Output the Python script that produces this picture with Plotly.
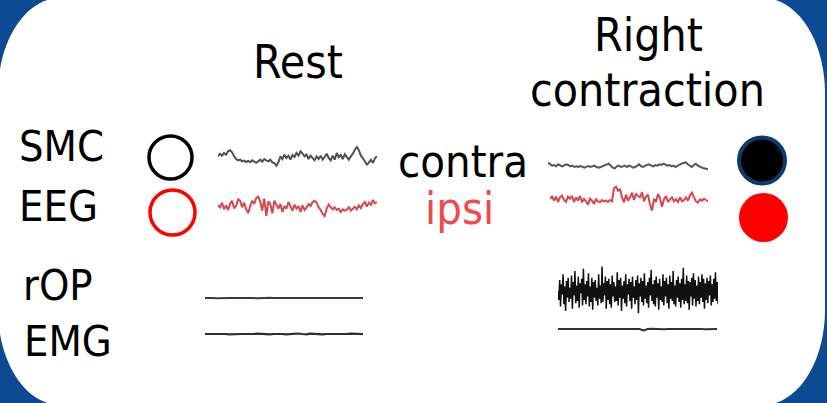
import plotly.graph_objects as go

W, H = 827, 403

# ---------------- data (signal samples, arbitrary units) ----------------
rest_smc_y = [80, 72, 78, 70, 75, 65, 62, 68, 80, 88, 92, 90, 95, 93, 97, 94, 98, 92, 96, 99,
              95, 90, 96, 88, 92, 95, 90, 98, 100, 108, 98, 80, 88, 75, 85, 78, 90, 76, 82, 70,
              78, 65, 72, 80, 75, 88, 78, 85, 92, 80, 88, 78, 90, 82, 72, 85, 92, 78, 90, 70,
              82, 76, 88, 74, 82, 90, 80, 72, 60, 52, 62, 78, 86, 95, 105, 98, 90, 100, 85, 80]
rest_eeg_y = [225, 232, 218, 238, 226, 240, 222, 212, 235, 228, 208, 212, 232, 218, 238, 250, 228, 212, 222, 204,
              200, 215, 242, 206, 258, 214, 222, 250, 212, 225, 236, 222, 246, 228, 236, 216, 232, 242, 224, 236,
              228, 246, 226, 240, 232, 222, 228, 216, 212, 218, 232, 240, 252, 258, 236, 224, 232, 238, 232, 240,
              236, 246, 238, 242, 240, 230, 242, 236, 230, 238, 226, 234, 222, 216, 230, 218, 224, 210, 220, 216]
right_smc_y = [95, 100, 104, 102, 106, 100, 104, 106, 103, 100, 102, 106, 104, 108, 106, 108, 105, 108, 110, 107,
               105, 108, 106, 104, 108, 110, 108, 106, 104, 100, 98, 104, 110, 112, 106, 104, 108, 106, 104, 108,
               104, 106, 110, 108, 104, 100, 106, 108, 104, 102, 100, 104, 106, 102, 104, 100, 102, 98, 100, 104,
               102, 106, 104, 108, 104, 100, 98, 96, 94, 100, 104, 108, 102, 98, 104, 108, 110, 112, 114, 115]
right_eeg_y = [205, 196, 210, 198, 214, 200, 195, 208, 214, 198, 204, 196, 214, 200, 210, 196, 215, 205, 212, 222,
               204, 210, 220, 206, 212, 215, 208, 212, 210, 214, 208, 212, 172, 168, 180, 176, 200, 215, 192, 210,
               200, 186, 208, 190, 196, 200, 184, 212, 198, 192, 222, 240, 204, 214, 190, 202, 228, 206, 196, 214,
               206, 200, 212, 206, 214, 200, 212, 208, 200, 210, 194, 186, 200, 212, 216, 206, 210, 204, 208, 212]
right_rop = [0, -8, 10, -14, 6, -3, 15, -12, 4, -18, 9, -6, 12, -10, 3, -7, 14, -16, 8, -4,
             18, -11, 5, -9, 13, -15, 7, -2, 11, -13, 20, -8, 6, -12, 9, -5, 16, -14, 4, -10,
             12, -17, 8, -6, 10, -9, 3, -13, 15, -7, 5, -11, 22, -10, 7, -4, 13, -16, 9, -8,
             11, -12, 6, -15, 14, -5, 8, -10, 4, -9, 17, -13, 10, -6, 12, -18, 5, -7, 9, -11,
             15, -14, 6, -3, 11, -9, 8, -16, 13, -6, 4, -12, 10, -8, 14, -20, 7, -5, 12, -10,
             9, -13, 16, -7, 5, -11, 8, -15, 12, -4, 19, -9, 6, -12, 10, -14, 13, -6, 7, -17,
             11, -8, 4, -10, 15, -13, 9, -5, 12, -11, 6, -16, 14, -7, 8, -9, 18, -12, 5, -14,
             10, -6, 13, -10, 7, -15, 11, -8, 21, -12, 6, -9, 14, -11, 9, -17, 8, -5, 12, -13,
             16, -7, 10, -14, 5, -9, 13, -12, 8, -6, 15, -10, 11, -16, 7, -8, 12, -11, 9, -4,
             14, -13, 6, -10, 11, -7, 17, -9, 8, -12]
rest_rop = [0, 0.3, 0, -0.3, 0, 0.3, 0, 0, -0.3, 0, 0, 0.3, 0, -0.3, 0, 0, 0.3, 0, 0, -0.3,
            0, 0.3, 0, 0, -0.3, 0, 0, 0.3, -0.3, 0, 0.3, 0, 0, -0.3, 0, 0, 0, 0.3, -0.3, 0]
rest_emg = [0, -0.3, 0, 0, 0.3, 0, -0.3, 0, 0.3, 0, 0, -0.3, 0, 0.3, 0, 0, -0.3, 0, 0.3, 0,
            -0.3, 0, 0, 0.5, 0, -0.3, 0.3, 0, 0, -0.3, 0, 0.3, 0, 0, -0.3, 0, 0.3, 0, 0, 0]
right_emg = [0, 0, 0.3, 0, -0.3, 0, 0, 0.3, 0, 0, -0.3, 0, 0.3, 0, 0, -0.3, 0, 0, 0.3, 0,
             0, -1.5, 0, 0.3, 0, 0, -0.3, 0, 0.3, 0, 0, -0.3, 0, 0, 0.3, 0, -0.3, 0, 0, 0]

rest_smc = [85 - v for v in rest_smc_y]
rest_eeg = [228 - v for v in rest_eeg_y]
right_smc = [105 - v for v in right_smc_y]
right_eeg = [205 - v for v in right_eeg_y]

# ---------------- layout config (pixel boxes) ----------------
# (values, x0, x1, y_top, y_bottom, half_range, color, width)
PANELS = [
    (rest_smc, 218, 377, 128, 188, 90, "#505050", 2.0),
    (rest_eeg, 218, 377, 176, 236, 90, "#d8464e", 2.0),
    (right_smc, 548, 708, 136, 196, 90, "#555555", 2.0),
    (right_eeg, 550, 708, 169, 229, 90, "#d8464e", 2.0),
    (rest_rop, 205, 363, 288, 308, 10, "#3c3c3c", 2.0),
    (rest_emg, 205, 363, 324, 344, 10, "#2e2e2e", 2.2),
    (right_rop, 558, 718, 260, 322, 28, "#111111", 1.5),
    (right_emg, 558, 717, 319, 339, 10, "#333333", 2.0),
]

fig = go.Figure()
layout_axes = {}
for i, (vals, x0, x1, yt, yb, hr, col, lw) in enumerate(PANELS):
    n = i + 2
    fig.add_trace(go.Scatter(x=list(range(len(vals))), y=vals, mode="lines",
                             line=dict(color=col, width=lw), xaxis=f"x{n}", yaxis=f"y{n}",
                             hoverinfo="skip", showlegend=False))
    layout_axes[f"xaxis{n}"] = dict(domain=[x0 / W, x1 / W], range=[0, len(vals) - 1],
                                    visible=False, anchor=f"y{n}")
    layout_axes[f"yaxis{n}"] = dict(domain=[1 - yb / H, 1 - yt / H], range=[-hr, hr],
                                    visible=False, anchor=f"x{n}")

FONT = "DejaVu Sans Condensed, DejaVu Sans, sans-serif"


def label(text, x, baseline, size, anchor="center", color="black"):
    return dict(text=text, x=x, y=baseline - 0.35 * size, xref="x", yref="y",
                xanchor=anchor, yanchor="middle", showarrow=False,
                font=dict(family=FONT, size=size, color=color))


annotations = [
    label("Rest", 298, 78, 46),
    label("Right", 648, 51, 46),
    label("contraction", 647, 106, 46),
    label("SMC", 17, 161, 43, "left"),
    label("EEG", 17, 221, 43, "left"),
    label("rOP", 21, 300, 43, "left"),
    label("EMG", 22, 356, 43, "left"),
    label("contra", 396, 177, 45, "left"),
    label("ipsi", 459, 224, 45, "center", "#f04a4a"),
]

# rounded white card with elliptical corners
L, T, R, B = -2, -2, 825, 405
rx, ry = 62, 95
kx, ky = 0.5523 * rx, 0.5523 * ry
card = (f"M {L + rx},{T} L {R - rx},{T} C {R - rx + kx},{T} {R},{T + ry - ky} {R},{T + ry} "
        f"L {R},{B - ry} C {R},{B - ry + ky} {R - rx + kx},{B} {R - rx},{B} "
        f"L {L + rx},{B} C {L + rx - kx},{B} {L},{B - ry + ky} {L},{B - ry} "
        f"L {L},{T + ry} C {L},{T + ry - ky} {L + rx - kx},{T} {L + rx},{T} Z")


def circle(cx, cy, rad, line_color, line_width, fill):
    return dict(type="circle", xref="x", yref="y", x0=cx - rad, x1=cx + rad,
                y0=cy - rad, y1=cy + rad, line=dict(color=line_color, width=line_width),
                fillcolor=fill, layer="above")


shapes = [
    dict(type="path", path=card, xref="x", yref="y", fillcolor="white",
         line=dict(width=0), layer="below"),
    circle(170.5, 157.5, 21.5, "black", 3.5, "rgba(0,0,0,0)"),
    circle(172.5, 212.5, 22.5, "#ff0000", 3.5, "rgba(0,0,0,0)"),
    circle(762, 160.5, 23, "#0d3a6e", 4, "black"),
    circle(763.5, 217.5, 24.5, "#ff0000", 0, "#ff0000"),
]

fig.update_layout(
    width=W, height=H, margin=dict(l=0, r=0, t=0, b=0),
    paper_bgcolor="#0c4a93", plot_bgcolor="rgba(0,0,0,0)",
    xaxis=dict(domain=[0, 1], range=[0, W], visible=False),
    yaxis=dict(domain=[0, 1], range=[H, 0], visible=False),
    shapes=shapes, annotations=annotations, showlegend=False,
    **layout_axes,
)
fig.write_html("out.html", config={"displayModeBar": False},
               post_script="document.body.style.margin='0';document.body.style.overflow='hidden';")
